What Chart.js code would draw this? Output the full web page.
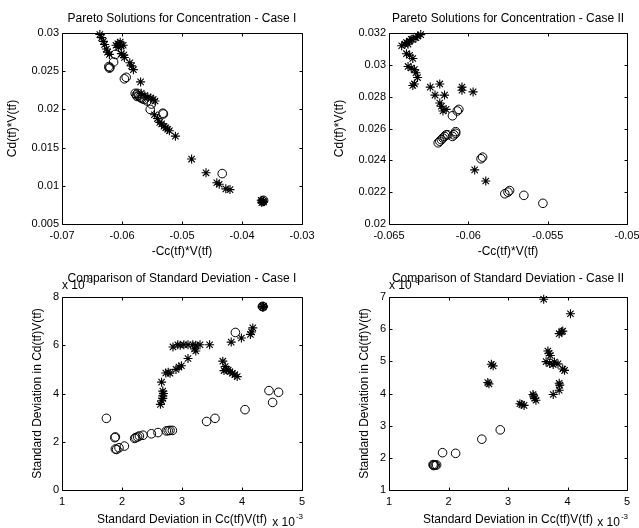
<!DOCTYPE html>
<html><head><meta charset="utf-8">
<script src="https://cdn.jsdelivr.net/npm/chart.js@4.4.1/dist/chart.umd.min.js"></script>
<style>
html,body{margin:0;padding:0;background:#fff;overflow:hidden;}
#wrap{position:relative;width:639px;height:528px;background:#fff;}
canvas{position:absolute;}
</style></head><body>
<div id="wrap">
<canvas id="c1" width="320" height="264" style="left:0;top:0"></canvas>
<canvas id="c2" width="319" height="264" style="left:320px;top:0"></canvas>
<canvas id="c3" width="320" height="264" style="left:0;top:264px"></canvas>
<canvas id="c4" width="319" height="264" style="left:320px;top:264px"></canvas>
</div>
<script>
// ---------- Panel 1: Pareto Solutions for Concentration - Case I ----------
const p1Title = 'Pareto Solutions for Concentration - Case I';
const p1XLabel = '-Cc(tf)*V(tf)';
const p1YLabel = 'Cd(tf)*V(tf)';
const p1XTicks = [-0.07, -0.06, -0.05, -0.04, -0.03];
const p1XTickLabels = ['-0.07', '-0.06', '-0.05', '-0.04', '-0.03'];
const p1YTicks = [0.005, 0.01, 0.015, 0.02, 0.025, 0.03];
const p1YTickLabels = ['0.005', '0.01', '0.015', '0.02', '0.025', '0.03'];
const p1Stars = [
  [-0.0637,0.0298],[-0.0634,0.0294],[-0.0631,0.0289],[-0.0629,0.0285],[-0.0626,0.0279],[-0.0624,0.0275],[-0.0621,0.0272],
  [-0.0610,0.0284],[-0.0607,0.0286],[-0.0604,0.0285],[-0.0601,0.0283],[-0.0606,0.0281],[-0.0598,0.0284],[-0.0603,0.0288],
  [-0.0601,0.0273],[-0.0597,0.0271],[-0.0596,0.0268],
  [-0.0587,0.0261],[-0.0584,0.0257],[-0.0581,0.0252],
  [-0.0569,0.0236],
  [-0.0568,0.0221],[-0.0562,0.0218],[-0.0557,0.0216],[-0.0552,0.0215],[-0.0548,0.0213],[-0.0545,0.0211],
  [-0.0546,0.0193],[-0.0541,0.0188],[-0.0537,0.0183],[-0.0534,0.0181],[-0.0530,0.0178],[-0.0527,0.0176],[-0.0524,0.0174],[-0.0521,0.0172],
  [-0.0511,0.0165],[-0.0484,0.0135],[-0.0460,0.0117],
  [-0.0442,0.0104],[-0.0438,0.0102],[-0.0427,0.0096],[-0.0420,0.0095],
  [-0.0368,0.0081],[-0.0365,0.0080],[-0.0367,0.0078],[-0.0364,0.0079]
];
const p1Circles = [
  [-0.0622,0.0256],[-0.0621,0.0254],[-0.0620,0.0255],[-0.0614,0.0262],[-0.0611,0.0272],
  [-0.0596,0.0240],[-0.0593,0.0242],
  [-0.0578,0.0221],[-0.0576,0.0219],[-0.0575,0.0217],[-0.0574,0.0221],[-0.0572,0.0218],[-0.0570,0.0216],
  [-0.0568,0.0215],[-0.0566,0.0214],[-0.0563,0.0213],
  [-0.0558,0.0211],[-0.0551,0.0207],[-0.0553,0.0200],
  [-0.0532,0.0195],[-0.0531,0.0194],
  [-0.0433,0.0116],
  [-0.0366,0.0080],[-0.0364,0.0081]
];

// ---------- Panel 2: Pareto Solutions for Concentration - Case II ----------
const p2Title = 'Pareto Solutions for Concentration - Case II';
const p2XLabel = '-Cc(tf)*V(tf)';
const p2YLabel = 'Cd(tf)*V(tf)';
const p2XTicks = [-0.065, -0.06, -0.055, -0.05];
const p2XTickLabels = ['-0.065', '-0.06', '-0.055', '-0.05'];
const p2YTicks = [0.02, 0.022, 0.024, 0.026, 0.028, 0.03, 0.032];
const p2YTickLabels = ['0.02', '0.022', '0.024', '0.026', '0.028', '0.03', '0.032'];
const p2Stars = [
  [-0.0642,0.0312],[-0.0640,0.0313],[-0.0639,0.0314],[-0.0638,0.0313],[-0.0637,0.0315],[-0.0636,0.0316],
  [-0.0635,0.0316],[-0.0633,0.0317],[-0.0632,0.0318],[-0.0630,0.0319],
  [-0.0639,0.0307],[-0.0637,0.0306],[-0.0635,0.0304],
  [-0.0638,0.0299],[-0.0636,0.0298],
  [-0.0634,0.0297],[-0.0633,0.0295],[-0.0632,0.0292],
  [-0.0635,0.0287],[-0.0634,0.0288],
  [-0.0624,0.0286],[-0.0618,0.0288],[-0.0621,0.0281],[-0.0615,0.0281],
  [-0.0604,0.0286],[-0.0604,0.0284],[-0.0597,0.0283],
  [-0.0618,0.0276],[-0.0617,0.0274],[-0.0616,0.0271],[-0.0614,0.0272],
  [-0.0596,0.0234],[-0.0589,0.0227]
];
const p2Circles = [
  [-0.0619,0.0251],[-0.0618,0.0252],[-0.0617,0.0253],[-0.0616,0.0254],[-0.0615,0.0255],[-0.0614,0.0256],[-0.0613,0.0256],
  [-0.0610,0.0255],[-0.0609,0.0256],[-0.0608,0.0257],[-0.0608,0.0258],
  [-0.0610,0.0268],[-0.0607,0.0271],[-0.0606,0.0272],
  [-0.0592,0.0241],[-0.0591,0.0242],
  [-0.0577,0.0219],[-0.0575,0.0220],[-0.0574,0.0221],
  [-0.0565,0.0218],[-0.0553,0.0213]
];

// ---------- Panel 3: Comparison of Standard Deviation - Case I (values x 10^-3) ----------
const p3Title = 'Comparison of Standard Deviation - Case I';
const p3XLabel = 'Standard Deviation in Cc(tf)V(tf)';
const p3YLabel = 'Standard Deviation in Cd(tf)V(tf)';
const p3XTicks = [1, 2, 3, 4, 5];
const p3XTickLabels = ['1', '2', '3', '4', '5'];
const p3YTicks = [0, 2, 4, 6, 8];
const p3YTickLabels = ['0', '2', '4', '6', '8'];
const p3Stars = [
  [2.64,3.55],[2.66,3.70],[2.68,3.80],[2.68,3.90],[2.69,4.00],[2.68,4.10],[2.66,4.47],
  [2.73,4.85],[2.77,4.88],[2.80,4.84],
  [2.90,5.00],[2.95,5.10],[2.99,5.15],
  [2.85,5.93],[2.93,6.02],[2.97,6.00],[3.03,6.02],[3.10,6.02],[3.18,6.02],[3.23,6.00],[3.30,6.02],
  [3.21,5.85],[3.23,5.76],[3.10,5.45],[3.46,6.02],
  [3.68,5.34],[3.72,5.12],[3.74,5.00],[3.77,4.97],[3.80,4.90],[3.84,4.84],[3.88,4.78],[3.92,4.70],[3.70,4.95],
  [3.82,6.13],[3.99,6.30],[4.14,6.45],[4.16,6.55],[4.18,6.72],
  [4.34,7.60],[4.35,7.58],[4.36,7.62]
];
const p3Circles = [
  [1.74,2.97],[1.89,2.20],[1.88,2.17],[1.89,1.70],[1.91,1.68],[1.95,1.75],[2.04,1.82],
  [2.21,2.14],[2.23,2.17],[2.26,2.20],[2.29,2.24],[2.35,2.27],[2.49,2.33],[2.60,2.38],
  [2.74,2.45],[2.77,2.46],[2.80,2.47],[2.84,2.47],
  [3.41,2.84],[3.55,2.97],[3.89,6.53],[4.05,3.33],[4.45,4.12],[4.51,3.63],[4.61,4.05],
  [4.35,7.60],[4.34,7.61]
];

// ---------- Panel 4: Comparison of Standard Deviation - Case II (values x 10^-3) ----------
const p4Title = 'Comparison of Standard Deviation - Case II';
const p4XLabel = 'Standard Deviation in Cc(tf)V(tf)';
const p4YLabel = 'Standard Deviation in Cd(tf)V(tf)';
const p4XTicks = [1, 2, 3, 4, 5];
const p4XTickLabels = ['1', '2', '3', '4', '5'];
const p4YTicks = [1, 2, 3, 4, 5, 6, 7];
const p4YTickLabels = ['1', '2', '3', '4', '5', '6', '7'];
const p4Stars = [
  [3.60,6.93],[4.05,6.48],[3.86,5.86],[3.90,5.92],[3.92,5.94],
  [3.67,5.32],[3.69,5.25],[3.71,5.18],
  [3.64,4.99],[3.70,4.93],[3.76,4.90],[3.78,4.98],[3.84,4.92],
  [3.92,4.76],[3.95,4.72],
  [3.86,4.32],[3.87,4.26],[3.86,4.10],[3.76,3.97],
  [2.72,4.91],[2.75,4.86],[2.66,4.34],[2.68,4.30],
  [3.42,3.97],[3.43,3.92],[3.45,3.85],[3.47,3.79],
  [3.20,3.68],[3.23,3.66],[3.27,3.63]
];
const p4Circles = [
  [1.74,1.79],[1.76,1.78],[1.78,1.77],[1.80,1.78],[1.75,1.76],
  [1.90,2.16],[2.12,2.14],[2.56,2.58],[2.87,2.87]
];
const exponentText = 'x 10';
const exponentPower = '-3';

// ---------- rendering ----------
const FONT = "'Liberation Sans', Arial, Helvetica, sans-serif";
Chart.defaults.font.family = FONT;
Chart.defaults.color = '#000';

const matlabAxes = {
  id: 'matlabAxes',
  afterDraw(chart, args, opts) {
    const {ctx, chartArea: a, scales} = chart;
    const x = scales.x, y = scales.y;
    ctx.save();
    ctx.strokeStyle = '#000';
    ctx.lineWidth = 1;
    const L = Math.round(a.left) + 0.5, R = Math.round(a.right) + 0.5;
    const T = Math.round(a.top) + 0.5, B = Math.round(a.bottom) + 0.5;
    ctx.beginPath();
    ctx.rect(L, T, R - L, B - T);
    const tl = 3;
    x.ticks.forEach(t => {
      const px = Math.round(x.getPixelForValue(t.value)) + 0.5;
      ctx.moveTo(px, B); ctx.lineTo(px, B - tl);
      ctx.moveTo(px, T); ctx.lineTo(px, T + tl);
    });
    y.ticks.forEach(t => {
      const py = Math.round(y.getPixelForValue(t.value)) + 0.5;
      ctx.moveTo(L, py); ctx.lineTo(L + tl, py);
      ctx.moveTo(R, py); ctx.lineTo(R - tl, py);
    });
    ctx.stroke();
    if (opts && opts.exponent) {
      ctx.fillStyle = '#000';
      ctx.textBaseline = 'alphabetic';
      ctx.textAlign = 'left';
      const big = '12px ' + FONT, small = '8px ' + FONT;
      ctx.font = big; const w1 = ctx.measureText(exponentText).width;
      ctx.font = small; const w2 = ctx.measureText(exponentPower).width;
      // top-left exponent for y axis
      ctx.font = big; ctx.fillText(exponentText, a.left, a.top - 8);
      ctx.font = small; ctx.fillText(exponentPower, a.left + w1 + 1, a.top - 14);
      // bottom-right exponent for x axis
      const sx = a.right - w1 - w2;
      ctx.font = big; ctx.fillText(exponentText, sx, chart.height - 2);
      ctx.font = small; ctx.fillText(exponentPower, sx + w1 + 1, chart.height - 9);
    }
    ctx.restore();
  }
};

function toPts(arr) { return arr.map(p => ({x: p[0], y: p[1]})); }

function makeChart(id, g, d) {
  const titleCenter = g.titleCenter, chartTop = 33, lh = 14.4;
  new Chart(document.getElementById(id), {
    type: 'scatter',
    data: {
      datasets: [
        {data: toPts(d.stars), pointStyle: 'star', pointRadius: 4.5, borderColor: '#000',
         backgroundColor: '#000', pointBorderWidth: 1.1, clip: false},
        {data: toPts(d.circles), pointStyle: 'circle', pointRadius: 4.3, borderColor: '#000',
         backgroundColor: 'rgba(0,0,0,0)', pointBorderWidth: 1, clip: false}
      ]
    },
    options: {
      responsive: false, animation: false, devicePixelRatio: 1,
      events: [],
      layout: {padding: {left: 0, right: g.padRight, top: 0, bottom: 0}},
      plugins: {
        legend: {display: false},
        tooltip: {enabled: false},
        title: {display: true, text: d.title, fullSize: false, color: '#000',
          font: {size: 12, weight: 'normal', family: FONT, lineHeight: 1.2},
          padding: {top: titleCenter - lh / 2, bottom: chartTop - titleCenter - lh / 2}},
        matlabAxes: {exponent: !!g.exponent}
      },
      scales: {
        x: {
          type: 'linear', min: d.xTicks[0], max: d.xTicks[d.xTicks.length - 1],
          grid: {display: false, drawTicks: false}, border: {display: false},
          afterBuildTicks: s => { s.ticks = d.xTicks.map(v => ({value: v})); },
          afterFit: s => { s.height = g.xH; s.paddingLeft = 0; s.paddingRight = 0; },
          ticks: {autoSkip: false, maxRotation: 0, minRotation: 0, padding: g.xTickPad, color: '#000',
            font: {size: 11, family: FONT},
            callback: (v, i) => d.xTickLabels[i]},
          title: {display: true, text: d.xLabel, color: '#000', font: {size: 12, family: FONT, lineHeight: 1.2},
            padding: {top: 0, bottom: g.xTitleCenterFromBottom - 7.2}}
        },
        y: {
          type: 'linear', min: d.yTicks[0], max: d.yTicks[d.yTicks.length - 1],
          grid: {display: false, drawTicks: false}, border: {display: false},
          afterBuildTicks: s => { s.ticks = d.yTicks.map(v => ({value: v})); },
          afterFit: s => { s.width = g.yW; s.paddingTop = 0; s.paddingBottom = 0; },
          ticks: {autoSkip: false, padding: 3, color: '#000', font: {size: 11, family: FONT},
            callback: (v, i) => d.yTickLabels[i]},
          title: {display: true, text: d.yLabel, color: '#000', font: {size: 12, family: FONT, lineHeight: 1.2},
            padding: {top: g.yTitleCenter - 7.2, bottom: 0}}
        }
      }
    },
    plugins: [matlabAxes]
  });
}

makeChart('c1', {yW: 62, padRight: 18, xH: 40, titleCenter: 19, xTitleCenterFromBottom: 12.5, yTitleCenter: 13, xTickPad: 5.4},
  {title: p1Title, xLabel: p1XLabel, yLabel: p1YLabel, xTicks: p1XTicks, xTickLabels: p1XTickLabels,
   yTicks: p1YTicks, yTickLabels: p1YTickLabels, stars: p1Stars, circles: p1Circles});
makeChart('c2', {yW: 69, padRight: 12, xH: 40, titleCenter: 19, xTitleCenterFromBottom: 12.5, yTitleCenter: 20, xTickPad: 5.4},
  {title: p2Title, xLabel: p2XLabel, yLabel: p2YLabel, xTicks: p2XTicks, xTickLabels: p2XTickLabels,
   yTicks: p2YTicks, yTickLabels: p2YTickLabels, stars: p2Stars, circles: p2Circles});
makeChart('c3', {yW: 62, padRight: 18, xH: 38, titleCenter: 15, xTitleCenterFromBottom: 8, yTitleCenter: 38, xTickPad: 5.6, exponent: true},
  {title: p3Title, xLabel: p3XLabel, yLabel: p3YLabel, xTicks: p3XTicks, xTickLabels: p3XTickLabels,
   yTicks: p3YTicks, yTickLabels: p3YTickLabels, stars: p3Stars, circles: p3Circles});
makeChart('c4', {yW: 69, padRight: 12, xH: 38, titleCenter: 15, xTitleCenterFromBottom: 8, yTitleCenter: 45, xTickPad: 5.6, exponent: true},
  {title: p4Title, xLabel: p4XLabel, yLabel: p4YLabel, xTicks: p4XTicks, xTickLabels: p4XTickLabels,
   yTicks: p4YTicks, yTickLabels: p4YTickLabels, stars: p4Stars, circles: p4Circles});
</script>
</body></html>
